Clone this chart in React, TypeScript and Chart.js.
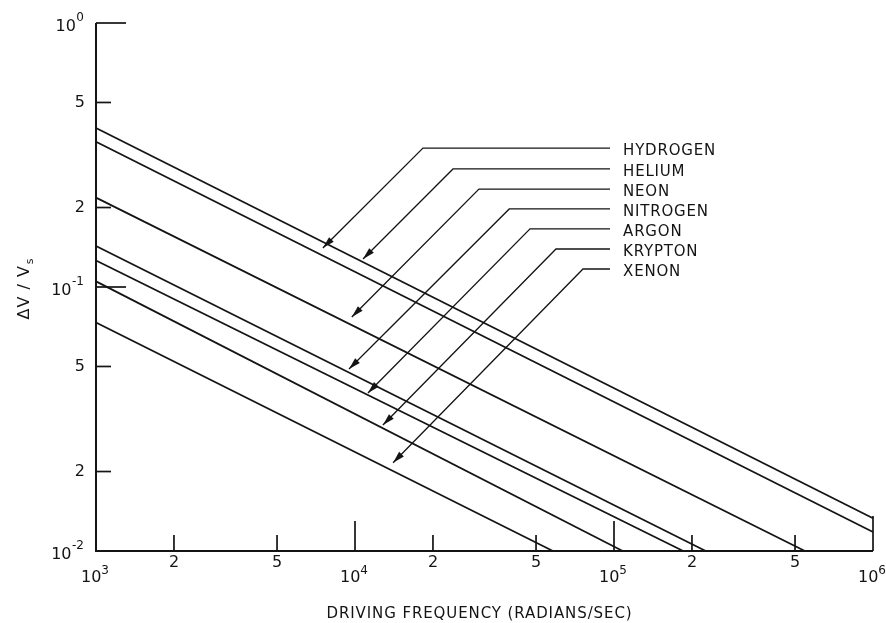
import React, { useEffect, useRef } from "react";
import { Chart, registerables } from "chart.js";

Chart.register(...registerables);

// ---- data ----
const gasNames = ["HYDROGEN", "HELIUM", "NEON", "NITROGEN", "ARGON", "KRYPTON", "XENON"];
const startFreq = [1e3, 1e3, 1e3, 1e3, 1e3, 1e3, 1e3];
const startRatio = [0.4, 0.355, 0.218, 0.143, 0.126, 0.105, 0.0734];
const endFreq = [1e6, 1e6, 5.46e5, 2.26e5, 1.85e5, 1.08e5, 5.81e4];
const endRatio = [0.0133, 0.0118, 0.01, 0.01, 0.01, 0.01, 0.01];

// leader annotations (data coordinates)
const leaderTipFreq = [7516, 10740, 9720, 9480, 11220, 12820, 14030];
const leaderTipRatio = [0.1405, 0.1277, 0.077, 0.0489, 0.0397, 0.03, 0.0216];
const leaderElbowFreq = [18300, 23900, 30100, 39400, 47400, 59700, 75900];
const leaderElbowRatio = [0.336, 0.28, 0.235, 0.1975, 0.166, 0.1393, 0.117];
const leaderEndFreq = 96500;
const labelFreq = 108400;

// ticks
const xTickValues = [1e3, 2e3, 5e3, 1e4, 2e4, 5e4, 1e5, 2e5, 5e5, 1e6];
const xTickBase = ["10", "2", "5", "10", "2", "5", "10", "2", "5", "10"];
const xTickSup = ["3", "", "", "4", "", "", "5", "", "", "6"];
const yTickValues = [1, 0.5, 0.2, 0.1, 0.05, 0.02, 0.01];
const yTickBase = ["10", "5", "2", "10", "5", "2", "10"];
const yTickSup = ["0", "", "", "-1", "", "", "-2"];

const xTitle = "DRIVING FREQUENCY (RADIANS/SEC)";

const FONT = '"DejaVu Sans", "Open Sans", sans-serif';
const INK = "#141414";

function setSpacing(ctx: CanvasRenderingContext2D, s: string) {
  (ctx as any).letterSpacing = s;
}

const decorPlugin = {
  id: "decor",
  afterDatasetsDraw(chart: any) {
    const ctx = chart.ctx as CanvasRenderingContext2D;
    const xs = chart.scales.x;
    const ys = chart.scales.y;
    const { left, right, top, bottom } = chart.chartArea;
    ctx.save();
    ctx.strokeStyle = INK;
    ctx.fillStyle = INK;
    ctx.lineCap = "butt";

    // axes
    ctx.lineWidth = 2;
    ctx.beginPath();
    ctx.moveTo(left, top);
    ctx.lineTo(left, bottom);
    ctx.lineTo(right, bottom);
    ctx.stroke();

    // y ticks
    ctx.lineWidth = 1.7;
    yTickValues.forEach((v, i) => {
      const py = ys.getPixelForValue(v);
      const major = yTickSup[i] !== "";
      if (v !== 0.01) {
        ctx.beginPath();
        ctx.moveTo(left, py);
        ctx.lineTo(left + (major ? 30 : 15), py);
        ctx.stroke();
      }
      const base = yTickBase[i];
      const sup = yTickSup[i];
      ctx.textBaseline = "middle";
      ctx.textAlign = "right";
      if (sup) {
        ctx.font = `12px ${FONT}`;
        const sw = ctx.measureText(sup).width;
        ctx.fillText(sup, left - 12, py - 5);
        ctx.font = `16px ${FONT}`;
        ctx.fillText(base, left - 12 - sw - 0.5, py + 4);
      } else {
        ctx.font = `16px ${FONT}`;
        ctx.fillText(base, left - 11, py);
      }
    });

    // x ticks
    xTickValues.forEach((v, i) => {
      const px = xs.getPixelForValue(v);
      const major = xTickSup[i] !== "";
      if (v !== 1e3) {
        ctx.beginPath();
        ctx.moveTo(px, bottom);
        ctx.lineTo(px, bottom - (major ? (v === 1e6 ? 35 : 30) : 16));
        ctx.stroke();
      }
      const base = xTickBase[i];
      const sup = xTickSup[i];
      ctx.textBaseline = "middle";
      if (sup) {
        ctx.font = `16px ${FONT}`;
        const bw = ctx.measureText(base).width;
        ctx.font = `12px ${FONT}`;
        const sw = ctx.measureText(sup).width;
        const x0 = px - (bw + sw) / 2 - 1;
        ctx.textAlign = "left";
        ctx.font = `16px ${FONT}`;
        ctx.fillText(base, x0, bottom + 27);
        ctx.font = `12px ${FONT}`;
        ctx.fillText(sup, x0 + bw, bottom + 20);
      } else {
        ctx.font = `16px ${FONT}`;
        ctx.textAlign = "center";
        ctx.fillText(base, px, bottom + 12);
      }
    });

    // leaders with arrows and labels
    ctx.lineWidth = 1.3;
    gasNames.forEach((name, i) => {
      const tx = xs.getPixelForValue(leaderTipFreq[i]);
      const ty = ys.getPixelForValue(leaderTipRatio[i]);
      const ex = xs.getPixelForValue(leaderElbowFreq[i]);
      const ey = ys.getPixelForValue(leaderElbowRatio[i]);
      const hx = xs.getPixelForValue(leaderEndFreq);
      ctx.beginPath();
      ctx.moveTo(hx, ey);
      ctx.lineTo(ex, ey);
      ctx.lineTo(tx, ty);
      ctx.stroke();
      const ang = Math.atan2(ty - ey, tx - ex);
      const len = 12;
      const hw = 3.3;
      const bx = tx - Math.cos(ang) * len;
      const by = ty - Math.sin(ang) * len;
      ctx.beginPath();
      ctx.moveTo(tx, ty);
      ctx.lineTo(bx + Math.sin(ang) * hw, by - Math.cos(ang) * hw);
      ctx.lineTo(bx - Math.sin(ang) * hw, by + Math.cos(ang) * hw);
      ctx.closePath();
      ctx.fill();
      const lx = xs.getPixelForValue(labelFreq);
      ctx.font = `15px ${FONT}`;
      setSpacing(ctx, "0.8px");
      ctx.textAlign = "left";
      ctx.textBaseline = "middle";
      ctx.fillText(name, lx, ey + 3);
      setSpacing(ctx, "0px");
    });

    // x title
    ctx.font = `15px ${FONT}`;
    setSpacing(ctx, "0.9px");
    ctx.textAlign = "center";
    ctx.textBaseline = "middle";
    ctx.fillText(xTitle, (left + right) / 2 - 5, bottom + 63);
    setSpacing(ctx, "0px");

    // y title (rotated)
    ctx.translate(25, ys.getPixelForValue(0.1) + 2);
    ctx.rotate(-Math.PI / 2);
    ctx.font = `16px ${FONT}`;
    setSpacing(ctx, "1px");
    ctx.textAlign = "left";
    ctx.textBaseline = "middle";
    const t1 = "\u0394V / V";
    const w1 = ctx.measureText(t1).width;
    ctx.font = `11px ${FONT}`;
    const w2 = ctx.measureText("s").width;
    const start = -(w1 + w2) / 2;
    ctx.font = `16px ${FONT}`;
    ctx.fillText(t1, start, 0);
    ctx.font = `11px ${FONT}`;
    ctx.fillText("s", start + w1 + 1, 5);
    setSpacing(ctx, "0px");
    ctx.restore();
  },
};

export default function App() {
  const ref = useRef<HTMLCanvasElement>(null);
  useEffect(() => {
    if (!ref.current) return;
    const datasets = gasNames.map((name, i) => ({
      label: name,
      data: [
        { x: startFreq[i], y: startRatio[i] },
        { x: endFreq[i], y: endRatio[i] },
      ],
      borderColor: INK,
      borderWidth: 1.8,
      pointRadius: 0,
      fill: false,
      tension: 0,
      clip: false as any,
    }));
    const chart = new Chart(ref.current, {
      type: "line",
      data: { datasets },
      options: {
        animation: false,
        responsive: false,
        maintainAspectRatio: false,
        layout: { padding: { left: 96, right: 13, top: 23, bottom: 72 } },
        plugins: { legend: { display: false }, tooltip: { enabled: false } },
        scales: {
          x: { type: "logarithmic", min: 1e3, max: 1e6, display: false },
          y: { type: "logarithmic", min: 0.01, max: 1, display: false },
        },
      },
      plugins: [decorPlugin],
    });
    return () => chart.destroy();
  }, []);
  return (
    <div style={{ position: "fixed", left: 0, top: 0, width: 886, height: 623, background: "#fff" }}>
      <canvas ref={ref} width={886} height={623} />
    </div>
  );
}
